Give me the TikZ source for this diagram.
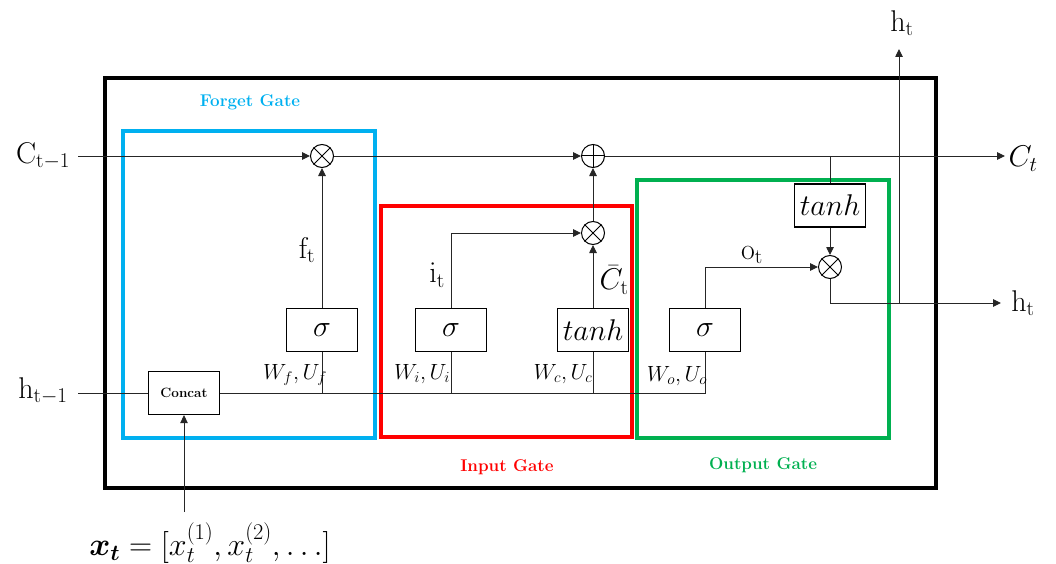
\RequirePackage{fix-cm}
\documentclass[tikz,border=0pt]{standalone}
\usepackage{amsmath,bm}
\usetikzlibrary{arrows.meta}
\definecolor{fgblue}{RGB}{0,176,240}
\definecolor{igred}{RGB}{255,0,0}
\definecolor{oggreen}{RGB}{0,176,80}
\begin{document}
\begin{tikzpicture}[x=1pt,y=-1pt,
  wire/.style={line width=0.9pt, draw=black!85},
  arr/.style={wire,-{Triangle[length=8pt,width=7.5pt]}},
  fnbox/.style={draw, line width=1.1pt, minimum width=71pt, minimum height=43pt, inner sep=0pt, font=\fontsize{30}{32}\selectfont},
  opc/.style={draw, circle, line width=1pt, minimum size=23pt, inner sep=0pt},
  lbl/.style={font=\fontsize{30}{32}\selectfont, inner sep=0pt},
  wlbl/.style={font=\fontsize{22}{24}\selectfont, inner sep=0pt},
  gatebox/.style={draw, line width=3.5pt, inner sep=0pt},
  gatelbl/.style={font=\fontsize{17}{19}\selectfont\bfseries, inner sep=0pt},
]
\useasboundingbox (0,0) rectangle (1056,564);
% frames
\node[gatebox, draw=black, minimum width=831pt, minimum height=410pt] (outer) at (520.5,283) {};
\node[gatebox, draw=fgblue, minimum width=252pt, minimum height=307pt] (fgate) at (249,284.5) {};
\node[gatebox, draw=igred, minimum width=251pt, minimum height=231pt] (igate) at (506.5,321.5) {};
\node[gatebox, draw=oggreen, minimum width=252pt, minimum height=258pt] (ogate) at (763,309) {};
\node[gatelbl, text=fgblue] (fgl) at (250,102) {Forget Gate};
\node[gatelbl, text=igred] (igl) at (507,467) {Input Gate};
\node[gatelbl, text=oggreen] (ogl) at (763,465) {Output Gate};
% function boxes
\node[fnbox] (fsig) at (322,330) {$\sigma$};
\node[fnbox] (isig) at (451,330) {$\sigma$};
\node[fnbox] (itanh) at (593,330) {$tanh$};
\node[fnbox] (osig) at (705,330) {$\sigma$};
\node[fnbox] (otanh) at (830,205.5) {$tanh$};
\node[draw, line width=1.2pt, minimum width=71pt, minimum height=43pt, inner sep=0pt, font=\fontsize{13.5}{15}\selectfont\bfseries] (concat) at (184,393) {Concat};
% operators
\node[opc] (fx) at (322,156) {};
\node[opc] (add) at (593,156) {};
\node[opc] (ix) at (593,233) {};
\node[opc] (ox) at (830,267) {};
\foreach \n in {fx,ix,ox}{
  \draw[line width=1pt] (\n.north west) -- (\n.south east);
  \draw[line width=1pt] (\n.north east) -- (\n.south west);
}
\draw[line width=1pt] (add.north) -- (add.south);
\draw[line width=1pt] (add.west) -- (add.east);
% coordinates
\coordinate (cin) at (78,156);
\coordinate (cout) at (1005,156);
\coordinate (tap) at (830,156);
\coordinate (hin) at (78,393);
\coordinate (hout) at (1001,303);
\coordinate (hsplit) at (899,303);
\coordinate (htop) at (899,49);
\coordinate (xin) at (184,512);
% cell state
\draw[arr] (cin) -- (fx.west);
\draw[arr] (fx.east) -- (add.west);
\draw[arr] (add.east) -- (cout);
\draw[wire] (tap) -- (otanh.north);
% gates
\draw[arr] (fsig.north) -- (fx.south);
\draw[arr] (isig.north) |- (ix.west);
\draw[arr] (itanh.north) -- (ix.south);
\draw[arr] (ix.north) -- (add.south);
\draw[arr] (otanh.south) -- (ox.north);
\draw[arr] (osig.north) |- (ox.west);
\draw[arr] (ox.south) |- (hout);
\draw[arr] (hsplit) -- (htop);
% input bus
\draw[wire] (hin) -- (concat.west);
\draw[wire] (concat.east) -- (osig.south |- concat.east) -- (osig.south);
\draw[wire] (fsig.south) -- (fsig.south |- concat.east);
\draw[wire] (isig.south) -- (isig.south |- concat.east);
\draw[wire] (itanh.south) -- (itanh.south |- concat.east);
\draw[arr] (xin) -- (concat.south);
% labels
\node[lbl] (lc) at (43,156) {$\mathrm{C}_{\mathrm{t-1}}$};
\node[lbl] (lh) at (43,391) {$\mathrm{h}_{\mathrm{t-1}}$};
\node[lbl] (lct) at (1023,159) {$C_t$};
\node[lbl] (lht) at (1023,303) {$\mathrm{h}_{\mathrm{t}}$};
\node[lbl] (lhtop) at (902,23) {$\mathrm{h}_{\mathrm{t}}$};
\node[lbl] (lf) at (307,250) {$\mathrm{f}_{\mathrm{t}}$};
\node[lbl] (li) at (437,275) {$\mathrm{i}_{\mathrm{t}}$};
\node[lbl] (lcb) at (614,280) {$\bar{C}_{\mathrm{t}}$};
\node[lbl] (lo) at (752,255) {$\mathrm{o}_{\mathrm{t}}$};
\node[wlbl] (wf) at (295,375) {$W_f,U_f$};
\node[wlbl] (wi) at (422,374) {$W_i,U_i$};
\node[wlbl] (wc) at (563,374) {$W_c,U_c$};
\node[wlbl] (wo) at (677,376) {$W_o,U_o$};
\node[lbl, font=\fontsize{32}{34}\selectfont] (lx) at (210,543) {$\bm{x_t}=[x_t^{(1)},x_t^{(2)},\ldots]$};
\end{tikzpicture}
\end{document}
